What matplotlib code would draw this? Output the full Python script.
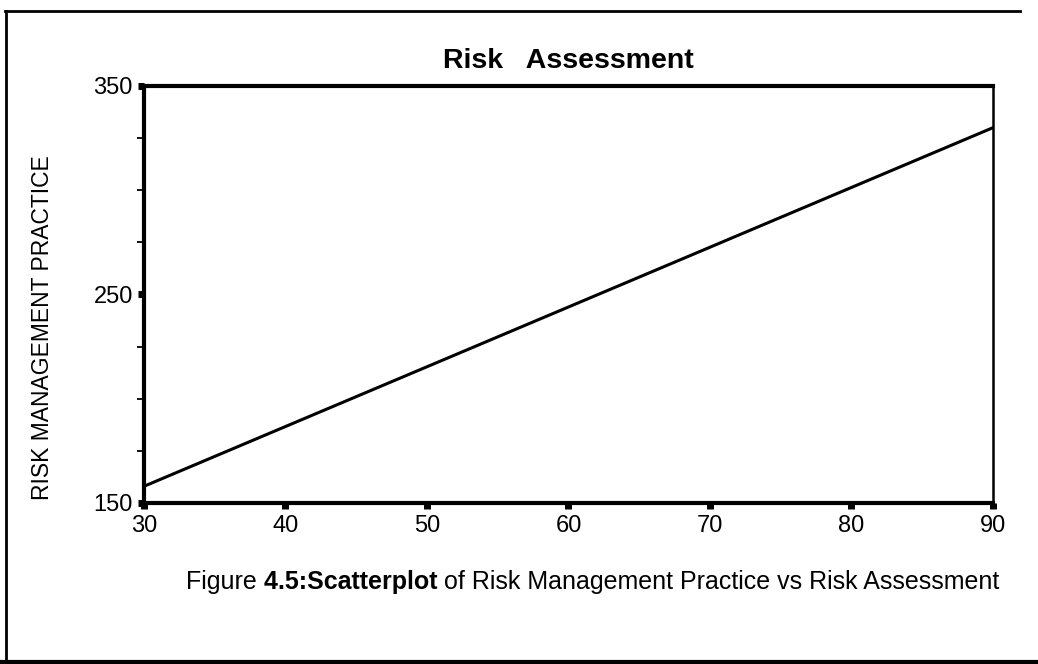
import matplotlib.pyplot as plt
from matplotlib.lines import Line2D

plt.rcParams['font.family'] = ['Liberation Sans', 'DejaVu Sans']

# fitted regression line: risk assessment vs risk management practice
assessment = [30, 90]
practice = [158, 330]

x_ticks = [30, 40, 50, 60, 70, 80, 90]
y_ticks = [150, 250, 350]
y_minor = [175, 200, 225, 275, 300, 325]

fig = plt.figure(figsize=(10.38, 6.64), dpi=100)
ax = fig.add_axes([0.1387, 0.2425, 0.8179, 0.628])

ax.plot(assessment, practice, color='black', linewidth=2.2)

ax.set_xlim(30, 90)
ax.set_ylim(150, 350)
ax.set_xticks(x_ticks)
ax.set_yticks(y_ticks)
ax.set_yticks(y_minor, minor=True)
ax.tick_params(axis='x', which='major', length=4, width=5, labelsize=17, pad=5)
ax.tick_params(axis='y', which='major', length=4, width=5, labelsize=17, pad=4)
ax.tick_params(axis='y', which='minor', length=5, width=1.3)

for side in ['left', 'bottom', 'top']:
    ax.spines[side].set_linewidth(3)
ax.spines['right'].set_linewidth(1.8)

ax.set_title('Risk   Assessment', fontsize=20.5, fontweight='bold', pad=13)
fig.text(0.0405, 0.506, 'RISK MANAGEMENT PRACTICE', rotation=90,
         ha='center', va='center', fontsize=16.5)

# caption, with the figure number set heavier
cap1 = fig.text(0.179, 0.1235, 'Figure', ha='left', va='center', fontsize=18)
cap2 = ax.annotate(' 4.5:Scatterplot', xy=(1, 0), xycoords=cap1, ha='left', va='bottom',
                   fontsize=18, fontweight='bold', annotation_clip=False)
ax.annotate(' of Risk Management Practice vs Risk Assessment', xy=(1, 0), xycoords=cap2,
            ha='left', va='bottom', fontsize=18, annotation_clip=False)

# page frame around the figure
W, H = 1038, 664
fig.add_artist(Line2D([5 / W, 1020 / W], [1 - 11 / H, 1 - 11 / H], color='black', linewidth=2))
fig.add_artist(Line2D([6 / W, 6 / W], [1 - 11 / H, 1 - 662 / H], color='black', linewidth=2))
fig.add_artist(Line2D([0, 1], [1 - 662 / H, 1 - 662 / H], color='black', linewidth=3))

fig.savefig('out.png', dpi=100)
